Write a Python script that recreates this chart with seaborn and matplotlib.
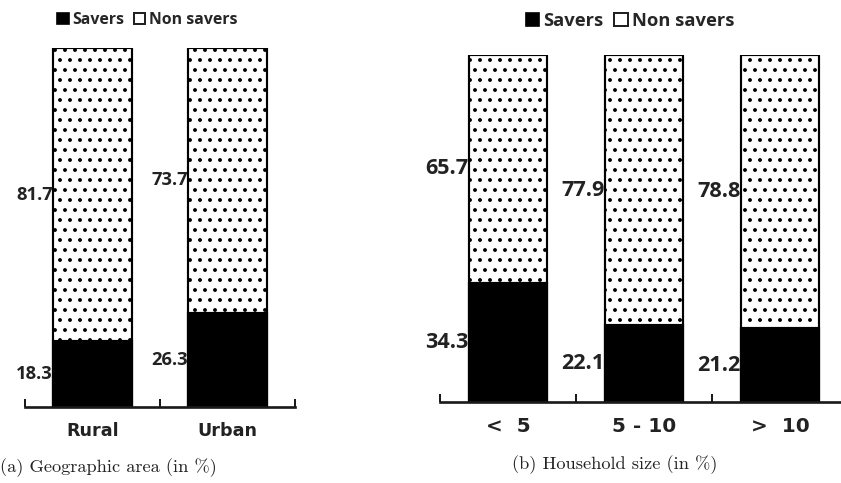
import numpy as np
import pandas as pd
import matplotlib
matplotlib.use('Agg')
import matplotlib.pyplot as plt
import seaborn as sns
from matplotlib.patches import Patch

# data (percent)
area_labels = ['Rural', 'Urban']
area_savers = [18.3, 26.3]
area_non_savers = [81.7, 73.7]

size_labels = ['<  5', '5 - 10', '>  10']
size_savers = [34.3, 22.1, 21.2]
size_non_savers = [65.7, 77.9, 78.8]

legend_labels = ['Savers', 'Non savers']
captions = ['(a) Geographic area (in %)', '(b) Household size (in %)']

W, H, DPI = 841, 483, 120
TXT = '#222222'
LAB_FONT = 'Open Sans'

sns.set_style('white')
plt.rcParams['hatch.linewidth'] = 1.1
plt.rcParams['hatch.color'] = 'black'


def draw_panel(ax, cats, savers, non_savers, bar_w, val_size, cat_size):
    df = pd.DataFrame({'cat': cats, 'savers': savers, 'non': non_savers})
    df['total'] = df['savers'] + df['non']
    sns.barplot(data=df, x='cat', y='total', ax=ax, color='white', edgecolor='black',
                linewidth=1.3, hatch='..', width=bar_w, saturation=1, errorbar=None)
    sns.barplot(data=df, x='cat', y='savers', ax=ax, color='black', edgecolor='black',
                linewidth=1.3, width=bar_w, saturation=1, errorbar=None)
    n = len(cats)
    ax.set_xlim(-0.5, n - 0.5)
    ax.set_ylim(0, 100)
    for s in ['left', 'top', 'right']:
        ax.spines[s].set_visible(False)
    ax.spines['bottom'].set_linewidth(1.6)
    ax.spines['bottom'].set_color('#1a1a1a')
    ax.set_yticks([])
    ax.set_xlabel('')
    ax.set_ylabel('')
    ax.set_xticks(np.arange(n + 1) - 0.5)
    ax.set_xticklabels([''] * (n + 1))
    ax.tick_params(axis='x', which='major', direction='in', length=5, width=1.2,
                   color='#1a1a1a', bottom=True)
    ax.set_xticks(np.arange(n), minor=True)
    ax.set_xticklabels(cats, minor=True, fontsize=cat_size, fontweight='bold',
                       family='DejaVu Sans', color=TXT)
    ax.tick_params(axis='x', which='minor', length=0, pad=9)
    for i in range(n):
        x = i - bar_w / 2 - 0.005
        ax.text(x, savers[i] / 2, f'{savers[i]:.1f}', ha='right', va='center',
                fontsize=val_size, fontweight='bold', family=LAB_FONT, color=TXT)
        ax.text(x, savers[i] + non_savers[i] / 2, f'{non_savers[i]:.1f}', ha='right',
                va='center', fontsize=val_size, fontweight='bold', family=LAB_FONT, color=TXT)


fig = plt.figure(figsize=(W / DPI, H / DPI), dpi=DPI)

ax1 = fig.add_axes([25 / W, 1 - 407 / H, 270 / W, 359 / H])
draw_panel(ax1, area_labels, area_savers, area_non_savers, 0.58, 11, 10.5)

ax2 = fig.add_axes([440 / W, 1 - 402 / H, 408 / W, 347 / H])
draw_panel(ax2, size_labels, size_savers, size_non_savers, 0.57, 13, 12)

handles = [Patch(facecolor='black', edgecolor='black'),
           Patch(facecolor='white', edgecolor='#222222', linewidth=1.2)]
fig.legend(handles, legend_labels, loc='center', bbox_to_anchor=(147 / W, 1 - 20 / H),
           ncol=2, frameon=False, handlelength=0.75, handleheight=0.75, handletextpad=0.2,
           columnspacing=0.6, prop={'family': LAB_FONT, 'weight': 'bold', 'size': 9.5})
fig.legend(handles, legend_labels, loc='center', bbox_to_anchor=(630 / W, 1 - 21 / H),
           ncol=2, frameon=False, handlelength=0.75, handleheight=0.75, handletextpad=0.2,
           columnspacing=0.6, prop={'family': LAB_FONT, 'weight': 'bold', 'size': 11})

fig.text(0 / W, 1 - 468 / H, captions[0], ha='left', va='center', fontsize=11,
         family=['cmr10', 'DejaVu Serif'], color=TXT)
fig.text(615 / W, 1 - 465 / H, captions[1], ha='center', va='center', fontsize=11,
         family=['cmr10', 'DejaVu Serif'], color=TXT)

fig.savefig('out.png', dpi=DPI, facecolor='white')
